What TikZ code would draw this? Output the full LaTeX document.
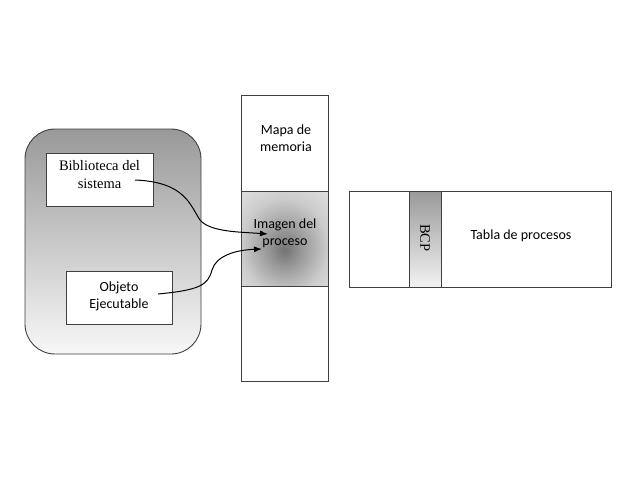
\documentclass[tikz,border=0pt]{standalone}
\usepackage{fontspec}
\setmainfont{Liberation Serif}
\newfontfamily\calfont{Carlito}
\usetikzlibrary{arrows.meta}
\definecolor{edge}{HTML}{404040}
\pgfdeclareradialshading{softglow}{\pgfpoint{0bp}{-6bp}}{%
  color(0bp)=(black!55); color(10bp)=(black!40); color(25bp)=(black!20); color(40bp)=(black!11); color(52bp)=(black!7); color(75bp)=(black!1)}
\tikzset{
  lbl/.style={align=center, font=\fontsize{14}{17}\selectfont\calfont, inner sep=0pt},
  slbl/.style={align=center, font=\fontsize{14.5}{18}\selectfont, inner sep=0pt},
  frame/.style={draw=edge, line width=0.9pt},
  conn/.style={line width=1pt, -{Latex[length=8pt,width=6pt]}}
}
\begin{document}
\begin{tikzpicture}[x=1pt,y=-1pt]
\useasboundingbox (0,0) rectangle (640,480);
% rounded container
\shade[top color=black!40, bottom color=black!3, frame, rounded corners=30pt]
  (25,129) rectangle (201,354);
\draw[frame, fill=white] (46,153) rectangle (153,206);
\node[slbl, anchor=north] (bib) at (99.5,160) {Biblioteca del\\sistema};
\draw[frame, fill=white] (66,271) rectangle (172,324);
\node[lbl] (obj) at (119,296) {Objeto\\Ejecutable};
% memory column
\draw[frame, fill=white] (241,95) rectangle (328,191);
\shade[shading=softglow, frame] (241,191) rectangle (328,286);
\draw[frame, fill=white] (241,286) rectangle (328,381);
\node[lbl] (mapa) at (286,138) {Mapa de\\memoria};
\node[lbl] (img) at (285,233) {Imagen del\\proceso};
% process table
\draw[frame, fill=white] (349,191) rectangle (611,287);
\shade[top color=black!40, bottom color=black!5, frame] (409,191) rectangle (441,287);
\node[slbl, rotate=-90] (bcp) at (425,238) {BCP};
\node[lbl] (tabla) at (521,236) {Tabla de procesos};
% connectors
\coordinate (s1) at (135,180);
\coordinate (t1) at (268,234);
\coordinate (s2) at (158,294);
\coordinate (t2) at (262,249);
\draw[conn] (s1) .. controls (185,182) and (190,205) .. (200,220) .. controls (210,232) and (240,232) .. (t1);
\draw[conn] (s2) .. controls (200,290) and (208,285) .. (212,270) .. controls (216,256) and (235,250) .. (t2);
\end{tikzpicture}
\end{document}
